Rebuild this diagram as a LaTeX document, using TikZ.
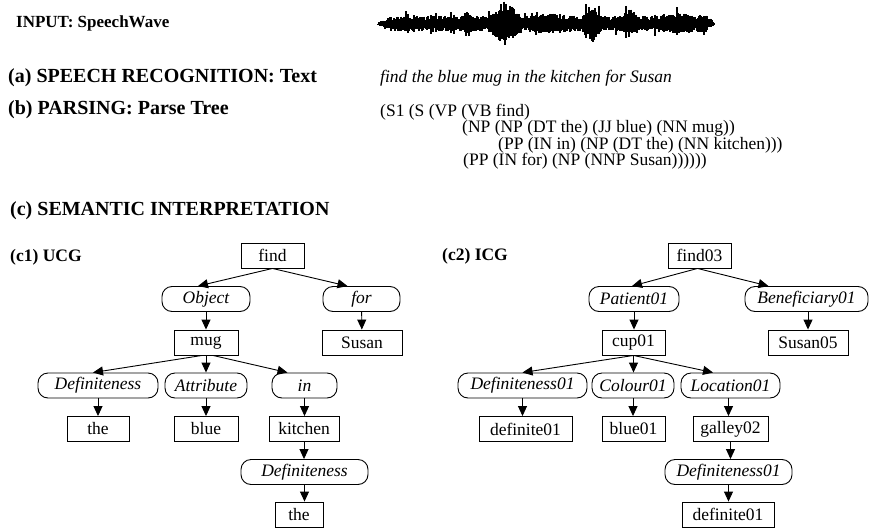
\documentclass[tikz,border=0pt]{standalone}
\usepackage{fontspec}
\setmainfont{Liberation Serif}
\usetikzlibrary{arrows.meta,calc}
\begin{document}
\begin{tikzpicture}[x=1pt,y=-1pt,
  nbox/.style={draw, line width=0.9pt, minimum height=25pt, inner sep=0pt, font=\fontsize{17.5}{20}\selectfont},
  rbox/.style={nbox, rounded corners=10pt, font=\fontsize{17.5}{20}\selectfont\itshape},
  arr/.style={-{Triangle[length=10pt,width=9pt]}, line width=0.9pt},
  hd/.style={anchor=base west, inner sep=0pt, font=\fontsize{20}{24}\selectfont\bfseries},
  subhd/.style={anchor=base west, inner sep=0pt, font=\fontsize{17.5}{20}\selectfont\bfseries},
  txt/.style={anchor=base west, inner sep=0pt, font=\fontsize{17.5}{20}\selectfont},
]
\useasboundingbox[fill=white] (0,0) rectangle (869,527);

% ---------- headings ----------
\node[subhd, font=\fontsize{17}{20}\selectfont\bfseries] (input) at (16,28) {INPUT: SpeechWave};
\node[hd] (ha) at (8,82) {(a) SPEECH RECOGNITION: Text};
\node[txt, font=\fontsize{17.5}{20}\selectfont\itshape] (sent) at (380,82) {find the blue mug in the kitchen for Susan};
\node[hd] (hb) at (8,114) {(b) PARSING: Parse Tree};
\node[txt] (p1) at (380,116) {(S1 (S (VP (VB find)};
\node[txt] (p2) at (462,132.5) {(NP (NP (DT the) (JJ blue) (NN mug))};
\node[txt] (p3) at (498,149) {(PP (IN in) (NP (DT the) (NN kitchen)))};
\node[txt] (p4) at (463,165.5) {(PP (IN for) (NP (NNP Susan))))))};
\node[hd] (hc) at (10,215) {(c) SEMANTIC INTERPRETATION};
\node[subhd] (hc1) at (10,261) {(c1) UCG};
\node[subhd] (hc2) at (442,260) {(c2) ICG};

% ---------- speech wave ----------
\pgfmathsetseed{42}
\foreach \i in {0,...,336}{
  \pgfmathsetmacro\xx{378+\i}
  \pgfmathsetmacro\env{(8 + 16*max(0,1-abs(\xx-505)/18) + 9*max(0,1-abs(\xx-468)/5) + 14*max(0,1-abs(\xx-592)/10) + 9*max(0,1-abs(\xx-630)/9) + 3*max(0,1-abs(\xx-550)/30) + 3*max(0,1-abs(\xx-680)/30)) * min(1,(\xx-377)/12) * min(1,(716-\xx)/8)}
  \pgfmathsetmacro\spk{rnd>0.92 ? 1.6 : 1}
  \pgfmathsetmacro\up{min(23,\env*(0.45+0.55*rnd)*\spk)}
  \pgfmathsetmacro\dn{min(23,\env*(0.4+0.5*rnd)*\spk)}
  \draw[line width=1.3pt] (\xx,24-\up) -- (\xx,24+\dn);
}

% ---------- UCG ----------
\node[nbox, minimum width=63pt] (find) at (272.5,255.5) {find};
\node[rbox, minimum width=88pt] (obj) at (206,299) {Object};
\node[rbox, minimum width=77pt] (for) at (361.5,299) {for};
\node[nbox, minimum width=64pt] (mug) at (206,342.5) {mug};
\node[nbox, minimum width=80pt] (susan) at (362,342.5) {Susan};
\node[rbox, minimum width=120pt] (defa) at (98,385.5) {Definiteness};
\node[rbox, minimum width=82pt] (attr) at (206,385.5) {Attribute};
\node[rbox, minimum width=65pt] (in) at (304.5,385.5) {in};
\node[nbox, minimum width=62pt] (thea) at (98,429) {the};
\node[nbox, minimum width=64pt] (blue) at (206,429) {blue};
\node[nbox, minimum width=70pt] (kitchen) at (304,429) {kitchen};
\node[rbox, minimum width=127pt] (defb) at (304.5,472) {Definiteness};
\node[nbox, minimum width=48pt] (theb) at (299,514.5) {the};

\draw[arr] (find.south) -- ([xshift=-8pt]obj.north);
\draw[arr] (find.south) -- ([xshift=-14pt]for.north);
\draw[arr] (obj) -- (mug);
\draw[arr] (for) -- (susan);
\draw[arr] ([xshift=-4pt]mug.south) -- ([xshift=-5pt]defa.north);
\draw[arr] (mug) -- (attr);
\draw[arr] ([xshift=7pt]mug.south) -- ([xshift=-17pt]in.north);
\draw[arr] (defa) -- (thea);
\draw[arr] (attr) -- (blue);
\draw[arr] (in.south) -- (in.south |- kitchen.north);
\draw[arr] (kitchen.south) -- (kitchen.south |- defb.north);
\draw[arr] (defb.south) -- (defb.south |- theb.north);

% ---------- ICG ----------
\node[nbox, minimum width=63pt] (find3) at (699.5,255.5) {find03};
\node[rbox, minimum width=90pt] (pat) at (634,299) {Patient01};
\node[rbox, minimum width=123pt] (ben) at (806.5,299) {Beneficiary01};
\node[nbox, minimum width=63pt] (cup) at (633.5,342.5) {cup01};
\node[nbox, minimum width=80pt] (susan5) at (808,342.5) {Susan05};
\node[rbox, minimum width=129pt] (defc) at (522.5,385.5) {Definiteness01};
\node[rbox, minimum width=82pt] (col) at (633,385.5) {Colour01};
\node[rbox, minimum width=99pt] (loc) at (730.5,385.5) {Location01};
\node[nbox, minimum width=93pt] (defia) at (525.5,429) {definite01};
\node[nbox, minimum width=63pt] (blue1) at (633.5,429) {blue01};
\node[nbox, minimum width=75pt] (galley) at (730.5,429) {galley02};
\node[rbox, minimum width=127pt] (defd) at (728.5,472) {Definiteness01};
\node[nbox, minimum width=92pt] (defib) at (728,514.5) {definite01};

\draw[arr] ([xshift=-2pt]find3.south) -- ([xshift=-2pt]pat.north);
\draw[arr] ([xshift=-2pt]find3.south) -- ([xshift=-38pt]ben.north);
\draw[arr] (pat) -- (pat |- cup.north);
\draw[arr] (ben.south -| susan5.north) -- (susan5.north);
\draw[arr] (cup.south) -- (defc.north);
\draw[arr] (cup.south) -- (cup.south |- col.north);
\draw[arr] (cup.south) -- ([xshift=-17.5pt]loc.north);
\draw[arr] (defc.south) -- (defc.south |- defia.north);
\draw[arr] (col.south) -- (col.south |- blue1.north);
\draw[arr] ([xshift=-2pt]loc.south) -- ([xshift=-2pt]loc.south |- galley.north);
\draw[arr] (galley.south) -- (galley.south |- defd.north);
\draw[arr] (defd.south) -- (defd.south |- defib.north);
\end{tikzpicture}
\end{document}
